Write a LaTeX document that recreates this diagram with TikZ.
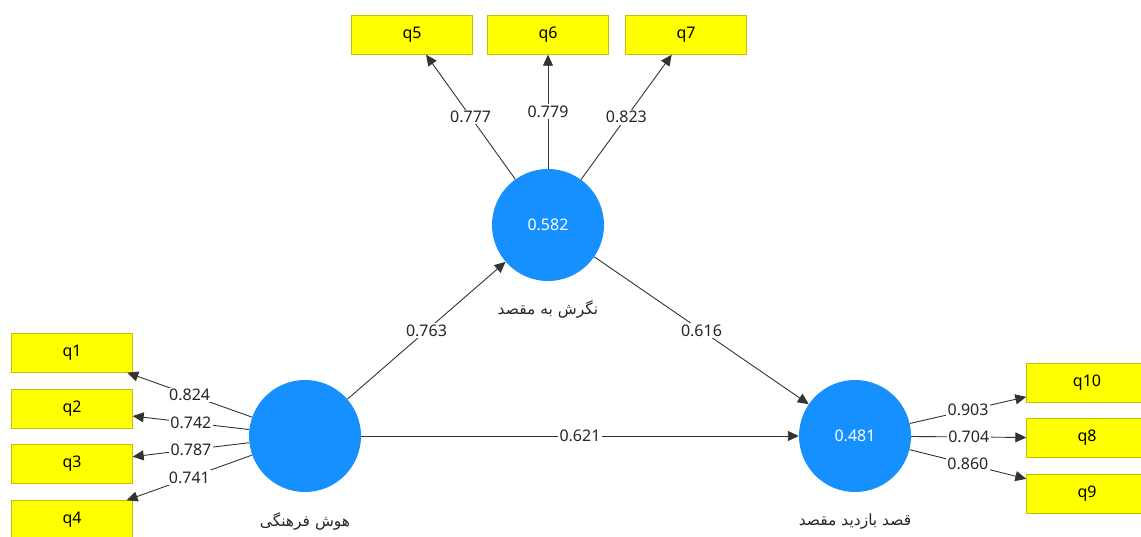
\documentclass[tikz,border=0pt]{standalone}
\usepackage{fontspec}
\setmainfont{Noto Sans}
\newfontfamily\farsi[Script=Arabic]{DejaVu Sans}
\TeXXeTstate=1
\usetikzlibrary{arrows.meta, positioning}
\definecolor{itemyellow}{HTML}{FFFF00}
\definecolor{itemedge}{HTML}{C2C200}
\definecolor{lvblue}{HTML}{1690FF}
\definecolor{wiregray}{HTML}{333333}
\tikzset{
    indicator/.style={
        rectangle, draw=itemedge, thin,
        minimum width=121pt, minimum height=39pt,
        fill=itemyellow, font=\fontsize{16}{19}\selectfont
    },
    construct/.style={
        circle, draw=none, fill=lvblue,
        minimum size=112pt, inner sep=0pt,
        text=white, font=\fontsize{16}{19}\selectfont
    },
    lvname/.style={font=\farsi\fontsize{15.5}{18}\selectfont, text=black!85},
    load/.style={draw=wiregray, line width=0.9pt, -{Triangle[length=11pt, width=10pt]}},
    coef/.style={fill=white, inner sep=1.5pt, font=\fontsize{16}{19}\selectfont, text=black!85}
}
\begin{document}
\begin{tikzpicture}[x=1pt, y=-1pt]
\useasboundingbox (0,0) rectangle (1141,536);

% Latent variables
\node[construct] (hoosh) at (305,436) {};
\node[construct] (negaresh) at (548,225) {0.582};
\node[construct] (ghasd) at (855,436) {0.481};

\node[lvname, below=17pt of hoosh] (hooshlbl) {\beginR هوش فرهنگی\endR};
\node[lvname, below=16pt of negaresh] (negareshlbl) {\beginR نگرش به مقصد\endR};
\node[lvname, below=18pt of ghasd] (ghasdlbl) {\beginR قصد بازدید مقصد\endR};

% Indicators
\node[indicator] (q1) at (72,353) {q1};
\node[indicator] (q2) at (72,409) {q2};
\node[indicator] (q3) at (72,464) {q3};
\node[indicator] (q4) at (72,520) {q4};

\node[indicator] (q5) at (412,35) {q5};
\node[indicator] (q6) at (548,35) {q6};
\node[indicator] (q7) at (686,35) {q7};

\node[indicator] (q10) at (1087,383) {q10};
\node[indicator] (q8) at (1087,438) {q8};
\node[indicator] (q9) at (1087,494) {q9};

% Outer loadings
\draw[load] (hoosh) -- node[coef] {0.824} (q1);
\draw[load] (hoosh) -- node[coef] {0.742} (q2);
\draw[load] (hoosh) -- node[coef] {0.787} (q3);
\draw[load] (hoosh) -- node[coef] {0.741} (q4);

\draw[load] (negaresh) -- node[coef] {0.777} (q5);
\draw[load] (negaresh) -- node[coef] {0.779} (q6);
\draw[load] (negaresh) -- node[coef] {0.823} (q7);

\draw[load] (ghasd) -- node[coef] {0.903} (q10);
\draw[load] (ghasd) -- node[coef] {0.704} (q8);
\draw[load] (ghasd) -- node[coef] {0.860} (q9);

% Path coefficients
\draw[load] (hoosh) -- node[coef] {0.763} (negaresh);
\draw[load] (negaresh) -- node[coef] {0.616} (ghasd);
\draw[load] (hoosh) -- node[coef] {0.621} (ghasd);

\end{tikzpicture}
\end{document}
